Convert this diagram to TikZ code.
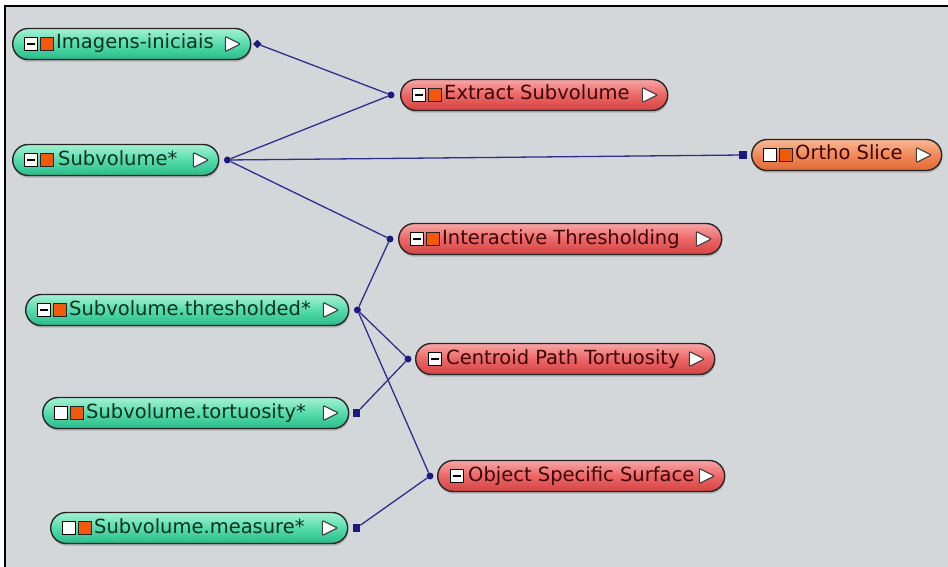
\documentclass[tikz,border=0pt]{standalone}
\usepackage{fontspec}
\setmainfont{DejaVu Sans}
\usetikzlibrary{shapes.misc,shapes.geometric,shadows}

\definecolor{canvasbg}{HTML}{D4D7DA}
\definecolor{gtop}{HTML}{A6F1D4}
\definecolor{gmid}{HTML}{55DCAD}
\definecolor{gbot}{HTML}{2BBA89}
\definecolor{rtop}{HTML}{F8A6A6}
\definecolor{rmid}{HTML}{EC6666}
\definecolor{rbot}{HTML}{D44444}
\definecolor{otop}{HTML}{FAB896}
\definecolor{omid}{HTML}{F38856}
\definecolor{obot}{HTML}{DE6A36}
\definecolor{gtext}{HTML}{06301F}
\definecolor{rtext}{HTML}{3A0404}
\definecolor{iconorange}{HTML}{F05A0A}
\definecolor{wireblue}{HTML}{2E2E8E}
\definecolor{portblue}{HTML}{1A1A80}

\newcommand\lblfont{\fontsize{19.5}{23}\selectfont}
% white output arrow drawn inside the right end of a module
\newcommand\outtri[1]{\draw[tri] ([shift={(-26,-7.5)}]#1.east) -- ([shift={(-11,0)}]#1.east) -- ([shift={(-26,7.5)}]#1.east) -- cycle;}

\begin{document}
\begin{tikzpicture}[x=1pt,y=-1pt,
  pill/.style={rounded rectangle, draw=black!85, line width=1.4pt,
    minimum height=31pt, inner sep=0pt, anchor=west,
    drop shadow={shadow xshift=0.6pt, shadow yshift=-2.2pt, opacity=0.45}},
  greenpill/.style={pill, top color=gtop, bottom color=gbot, middle color=gmid},
  redpill/.style={pill, top color=rtop, bottom color=rbot, middle color=rmid},
  orangepill/.style={pill, top color=otop, bottom color=obot, middle color=omid},
  glbl/.style={font=\lblfont, text=gtext, inner sep=0pt, anchor=west, text height=14pt, text depth=4pt},
  rlbl/.style={glbl, text=rtext},
  emptybox/.style={rectangle, draw=black, fill=white, line width=1.3pt, minimum size=12.5pt, inner sep=0pt},
  minusbox/.style={emptybox, path picture={\draw[line width=1.8pt]
      ([xshift=2.5pt]path picture bounding box.west) -- ([xshift=-2.5pt]path picture bounding box.east);}},
  orangebox/.style={rectangle, draw=black!85, fill=iconorange, line width=1.3pt, minimum size=12.5pt, inner sep=0pt},
  tri/.style={draw=black!75, fill=white, line width=1.1pt, rounded corners=1pt},
  dotport/.style={circle, fill=portblue, minimum size=7pt, inner sep=0pt},
  sqport/.style={rectangle, fill=portblue, minimum size=7.5pt, inner sep=0pt},
  diaport/.style={diamond, fill=portblue, minimum size=8.5pt, inner sep=0pt},
  wire/.style={draw=wireblue, line width=1.3pt}]

\useasboundingbox (0,0) rectangle (948,567);
\fill[white] (0,0) rectangle (948,567);
\fill[canvasbg] (5,6) rectangle (948,567);
\draw[line width=2pt] (5,567) -- (5,6) -- (948,6);

% ---- data objects (green) ----
\node[greenpill, minimum width=238] (img) at (12,44) {};
\node[minusbox] (img-a) at ([xshift=19]img.west) {};
\node[orangebox] (img-b) at ([xshift=35]img.west) {};
\node[glbl] (img-l) at ([xshift=44]img.west) {Imagens-iniciais};
\outtri{img}

\node[greenpill, minimum width=206] (sub) at (12,160) {};
\node[minusbox] (sub-a) at ([xshift=19]sub.west) {};
\node[orangebox] (sub-b) at ([xshift=35]sub.west) {};
\node[glbl] (sub-l) at ([xshift=46]sub.west) {Subvolume*};
\outtri{sub}

\node[greenpill, minimum width=323] (thr) at (25,310) {};
\node[minusbox] (thr-a) at ([xshift=19]thr.west) {};
\node[orangebox] (thr-b) at ([xshift=35]thr.west) {};
\node[glbl] (thr-l) at ([xshift=44]thr.west) {Subvolume.thresholded*};
\outtri{thr}

\node[greenpill, minimum width=306] (tor) at (42,413) {};
\node[emptybox] (tor-a) at ([xshift=19]tor.west) {};
\node[orangebox] (tor-b) at ([xshift=35]tor.west) {};
\node[glbl] (tor-l) at ([xshift=44]tor.west) {Subvolume.tortuosity*};
\outtri{tor}

\node[greenpill, minimum width=297] (mea) at (50,528) {};
\node[emptybox] (mea-a) at ([xshift=19]mea.west) {};
\node[orangebox] (mea-b) at ([xshift=35]mea.west) {};
\node[glbl] (mea-l) at ([xshift=44]mea.west) {Subvolume.measure*};
\outtri{mea}

% ---- modules (red / orange) ----
\node[redpill, minimum width=267] (ext) at (400,95) {};
\node[minusbox] (ext-a) at ([xshift=19]ext.west) {};
\node[orangebox] (ext-b) at ([xshift=35]ext.west) {};
\node[rlbl] (ext-l) at ([xshift=44]ext.west) {Extract Subvolume};
\outtri{ext}

\node[orangepill, minimum width=190] (ort) at (751,155) {};
\node[emptybox] (ort-a) at ([xshift=19]ort.west) {};
\node[orangebox] (ort-b) at ([xshift=35]ort.west) {};
\node[rlbl] (ort-l) at ([xshift=44]ort.west) {Ortho Slice};
\outtri{ort}

\node[redpill, minimum width=323] (int) at (398,239) {};
\node[minusbox] (int-a) at ([xshift=19]int.west) {};
\node[orangebox] (int-b) at ([xshift=35]int.west) {};
\node[rlbl] (int-l) at ([xshift=44]int.west) {Interactive Thresholding};
\outtri{int}

\node[redpill, minimum width=299] (cen) at (415,359) {};
\node[minusbox] (cen-a) at ([xshift=20]cen.west) {};
\node[rlbl] (cen-l) at ([xshift=31]cen.west) {Centroid Path Tortuosity};
\outtri{cen}

\node[redpill, minimum width=287] (obj) at (437,476) {};
\node[minusbox] (obj-a) at ([xshift=20]obj.west) {};
\node[rlbl] (obj-l) at ([xshift=31]obj.west) {Object Specific Surface};
\outtri{obj}

% ---- ports ----
\node[diaport] (img-o) at ([xshift=6]img.east) {};
\node[dotport] (sub-o) at ([xshift=8]sub.east) {};
\node[dotport] (thr-o) at ([xshift=8]thr.east) {};
\node[sqport] (tor-o) at ([xshift=7]tor.east) {};
\node[sqport] (mea-o) at ([xshift=8]mea.east) {};
\node[dotport] (ext-i) at ([xshift=-9]ext.west) {};
\node[sqport] (ort-i) at ([xshift=-8]ort.west) {};
\node[dotport] (int-i) at ([xshift=-8]int.west) {};
\node[dotport] (cen-i) at ([xshift=-7]cen.west) {};
\node[dotport] (obj-i) at ([xshift=-7]obj.west) {};

% ---- connections ----
\draw[wire] (img-o) -- (ext-i);
\draw[wire] (sub-o) -- (ext-i);
\draw[wire] (sub-o) -- (ort-i);
\draw[wire] (sub-o) -- (int-i);
\draw[wire] (thr-o) -- (int-i);
\draw[wire] (thr-o) -- (cen-i);
\draw[wire] (thr-o) -- (obj-i);
\draw[wire] (tor-o) -- (cen-i);
\draw[wire] (mea-o) -- (obj-i);
\end{tikzpicture}
\end{document}
